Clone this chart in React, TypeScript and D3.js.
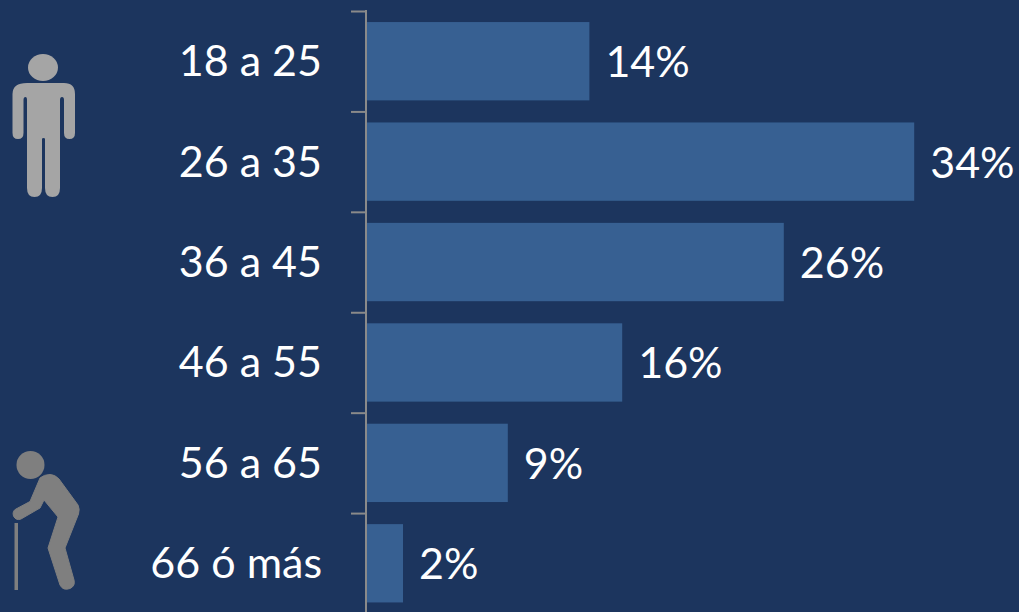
import React from "react";
import * as d3 from "d3";

const categories = ["18 a 25", "26 a 35", "36 a 45", "46 a 55", "56 a 65", "66 ó más"];
const values = [13.9, 34.2, 26.05, 15.95, 8.8, 2.25];
const valueLabels = ["14%", "34%", "26%", "16%", "9%", "2%"];

const W = 1019, H = 612;
const FONT = "Lato, Carlito, sans-serif";
const BG = "#1c355e", BAR = "#376092", AXIS = "#8a8a8a";

const x = d3.scaleLinear().domain([0, 10]).range([367, 527]);
const y = d3.scaleBand<string>().domain(categories).range([11, 613.5]).paddingInner(0.22).paddingOuter(0.11);
const outer = d3.scaleBand<string>().domain(categories).range([11, 613.5]);

const man = "M27 83 H64 Q75 83 75 94 V133 Q75 139 69.500 139 Q64 139 64 133 V100 Q64 97 62 97 Q60 97 60 100 V188 Q60 197 52.500 197 Q45 197 45 188 V139 Q45 138 43.500 138 Q42 138 42 139 V188 Q42 197 34.500 197 Q27 197 27 188 V100 Q27 97 25.500 97 Q23.500 97 23.500 100 V133 Q23.500 139 18 139 Q12.500 139 12.500 133 V94 Q12.500 83 27 83 Z";
const oldMan = "M40 478 Q44 474.500 50 474.500 Q55 474.500 59 479 L78 505 Q80 509 78.500 514 L65 548 L74 580 Q75.500 586 70 588.500 Q63 591 60 585 L48 548 L58 517 L44 500 L40 508 L21 519 Q16 521 13.500 516 Q12 511 16 509 L30 501.500 Z";

export default function App() {
  return (
    <svg width={W} height={H} viewBox={`0 0 ${W} ${H}`}
      style={{ position: "fixed", left: 0, top: 0, background: BG, display: "block" }}>
      <rect width={W} height={H} fill={BG} />
      <path d={man} fill="#a5a5a5" />
      <ellipse cx={43} cy={67.5} rx={15} ry={13.5} fill="#a5a5a5" />
      <circle cx={30.500} cy={465} r={14} fill="#7f7f7f" />
      <path d={oldMan} fill="#7f7f7f" stroke="#7f7f7f" strokeWidth={1} strokeLinejoin="round" />
      <rect x={14.500} y={523} width={3.500} height={67} fill="#7f7f7f" />

      {categories.map((c, i) => (
        <rect key={c} x={x(0)} y={y(c)} width={x(values[i]) - x(0)} height={y.bandwidth()} fill={BAR} />
      ))}

      <line x1={366} x2={366} y1={10} y2={612} stroke={AXIS} strokeWidth={2} />
      {categories.map((c) => (
        <line key={c} x1={351} x2={367} y1={outer(c)! + 0.5} y2={outer(c)! + 0.5} stroke={AXIS} strokeWidth={2} />
      ))}

      {categories.map((c) => (
        <text key={c} x={322} y={y(c)! + y.bandwidth() / 2 + 15} textAnchor="end" fontFamily={FONT} fontSize={43} fill="#fff">{c}</text>
      ))}
      {categories.map((c, i) => (
        <text key={c} x={x(values[i]) + 16} y={y(c)! + y.bandwidth() / 2 + 16} fontFamily={FONT} fontSize={43} fill="#fff">{valueLabels[i]}</text>
      ))}
    </svg>
  );
}
